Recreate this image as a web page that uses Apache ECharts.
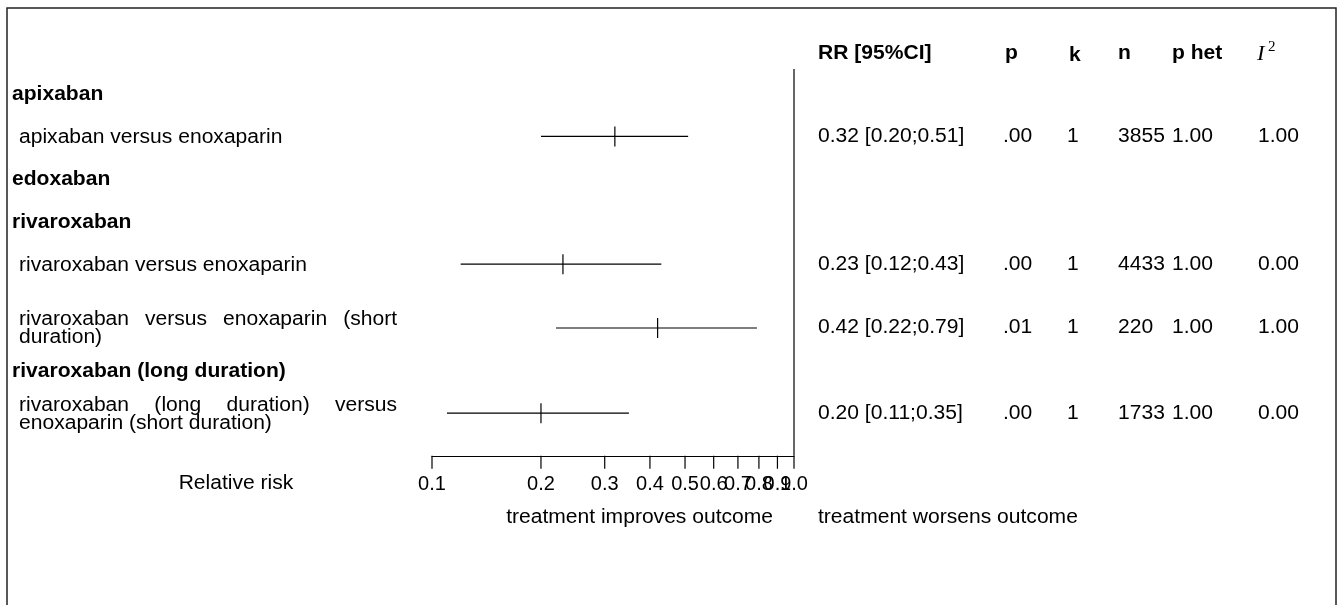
<!DOCTYPE html>
<html>
<head>
<meta charset="utf-8">
<script src="https://cdn.jsdelivr.net/npm/echarts@6/dist/echarts.min.js"></script>
<style>
  html, body { margin: 0; padding: 0; background: #fff; }
  #chart { width: 1343px; height: 605px; }
</style>
</head>
<body>
<div id="chart"></div>
<script>
// ---- data ----
const rowLabels = [
  'apixaban',
  'apixaban versus enoxaparin',
  'edoxaban',
  'rivaroxaban',
  'rivaroxaban versus enoxaparin',
  'rivaroxaban versus enoxaparin (short duration)',
  'rivaroxaban (long duration)',
  'rivaroxaban (long duration) versus enoxaparin (short duration)'
];
const isGroup = [true, false, true, true, false, false, true, false];
const rrEst = [null, 0.32, null, null, 0.23, 0.42, null, 0.20];
const rrLow = [null, 0.20, null, null, 0.12, 0.22, null, 0.11];
const rrHigh = [null, 0.51, null, null, 0.43, 0.79, null, 0.35];
const pVal = ['', '.00', '', '', '.00', '.01', '', '.00'];
const kVal = ['', '1', '', '', '1', '1', '', '1'];
const nVal = ['', '3855', '', '', '4433', '220', '', '1733'];
const pHet = ['', '1.00', '', '', '1.00', '1.00', '', '1.00'];
const i2Val = ['', '1.00', '', '', '0.00', '1.00', '', '0.00'];
const headers = ['RR [95%CI]', 'p', 'k', 'n', 'p het'];
const tickValues = [0.1, 0.2, 0.3, 0.4, 0.5, 0.6, 0.7, 0.8, 0.9, 1.0];
const tickLabels = ['0.1', '0.2', '0.3', '0.4', '0.5', '0.6', '0.7', '0.8', '0.9', '1.0'];
const nullEffect = 1;

// ---- layout ----
const rowSlot = [1, 2, 3, 4, 5, 6.5, 7.5, 8.5];   // row position on the y scale
const colX = [818, 1003, 1067, 1118, 1172, 1258];   // right hand columns
const headX = [818, 1005, 1069, 1118, 1172, 1257];
const FONT = '"Liberation Sans", Arial, Helvetica, sans-serif';
const FS = 19.5;
const STRETCH = 1.08; // the reference text is a bit wide
const LINE_H = 18;
const LABEL_W = 378;

const ctx = document.createElement('canvas').getContext('2d');
function measure(str, bold) {
  ctx.font = (bold ? 'bold ' : '') + FS + 'px ' + FONT;
  return ctx.measureText(str).width * STRETCH;
}
function wrapWords(str, maxW) {
  const words = str.split(' ');
  const lines = [];
  let cur = [];
  words.forEach(w => {
    if (cur.length && measure(cur.concat(w).join(' ')) > maxW) {
      lines.push(cur);
      cur = [w];
    } else {
      cur.push(w);
    }
  });
  lines.push(cur);
  return lines;
}
function txt(str, x, y, opt) {
  return {
    type: 'text',
    x: x,
    y: y,
    scaleX: STRETCH,
    silent: true,
    style: Object.assign({
      text: str, x: 0, y: 0, fill: '#000',
      fontFamily: FONT, fontSize: FS,
      align: 'left', verticalAlign: 'middle'
    }, opt || {})
  };
}
function fmt(v) { return v.toFixed(2); }

const chart = echarts.init(document.getElementById('chart'));

// left labels + table columns
function renderRow(params, api) {
  const i = params.dataIndex;
  const y = api.coord([nullEffect, rowSlot[i]])[1] + 1;
  const children = [];
  if (isGroup[i]) {
    children.push(txt(rowLabels[i], 12, y, { fontWeight: 'bold' }));
  } else {
    const lines = wrapWords(rowLabels[i], LABEL_W);
    lines.forEach((words, j) => {
      const ly = y + (j - (lines.length - 1) / 2) * LINE_H;
      if (j < lines.length - 1 && words.length > 1) {
        const ws = words.map(w => measure(w));
        const gap = (LABEL_W - ws.reduce((a, b) => a + b, 0)) / (words.length - 1);
        let x = 19;
        words.forEach((w, k) => {
          children.push(txt(w, x, ly));
          x += ws[k] + gap;
        });
      } else {
        children.push(txt(words.join(' '), 19, ly));
      }
    });
  }
  if (rrEst[i] != null) {
    const cols = [
      fmt(rrEst[i]) + ' [' + fmt(rrLow[i]) + ';' + fmt(rrHigh[i]) + ']',
      pVal[i], kVal[i], nVal[i], pHet[i], i2Val[i]
    ];
    cols.forEach((c, k) => children.push(txt(c, colX[k], y - 1)));
  }
  return { type: 'group', children: children };
}

function renderHeader(params, api) {
  const y = api.coord([nullEffect, 0])[1] + 2;
  const children = headers.map((h, k) =>
    txt(h, headX[k], y + (h === 'k' ? 2 : 0), { fontWeight: 'bold' }));
  children.push(txt('I', headX[5], y + 1, { fontFamily: '"Liberation Serif", "DejaVu Serif", serif', fontStyle: 'italic', fontSize: 21 }));
  children.push(txt('2', headX[5] + 11, y - 6, { fontFamily: '"Liberation Serif", "DejaVu Serif", serif', fontSize: 14 }));
  return { type: 'group', children: children };
}

function renderCI(params, api) {
  const lo = api.coord([api.value(0), api.value(3)]);
  const hi = api.coord([api.value(2), api.value(3)]);
  const mid = api.coord([api.value(1), api.value(3)]);
  const st = { stroke: '#000', lineWidth: 1.2 };
  return {
    type: 'group',
    children: [
      { type: 'line', shape: { x1: lo[0], y1: lo[1], x2: hi[0], y2: hi[1] }, style: st },
      { type: 'line', shape: { x1: mid[0], y1: mid[1] - 10, x2: mid[0], y2: mid[1] + 10 }, style: st }
    ]
  };
}

function renderTick(params, api) {
  const p = api.coord([api.value(0), 9.5]);
  return {
    type: 'group',
    children: [
      { type: 'line', shape: { x1: p[0], y1: p[1], x2: p[0], y2: p[1] + 13 }, style: { stroke: '#000', lineWidth: 1.2 } },
      Object.assign(txt(tickLabels[params.dataIndex], p[0], p[1] + 29, { align: 'center', fontSize: 20 }), { scaleX: 1 })
    ]
  };
}

function renderNull(params, api) {
  const a = api.coord([nullEffect, 0.42]);
  const b = api.coord([nullEffect, 9.5]);
  return { type: 'line', shape: { x1: a[0], y1: a[1], x2: b[0], y2: b[1] }, style: { stroke: '#000', lineWidth: 1.2 } };
}

const ciData = [];
rrEst.forEach((v, i) => {
  if (v != null) ciData.push([rrLow[i], v, rrHigh[i], rowSlot[i]]);
});

function plainText(str, x, y, align) {
  return {
    type: 'text', x: x, y: y, scaleX: STRETCH, silent: true,
    style: { text: str, x: 0, y: 0, fill: '#000', fontFamily: FONT, fontSize: FS, align: align, verticalAlign: 'middle' }
  };
}

const option = {
  animation: false,
  backgroundColor: '#fff',
  grid: { left: 432, right: 549, top: 68.25, bottom: 149.25 },
  xAxis: {
    type: 'log',
    logBase: 10,
    min: 0.1,
    max: 1,
    axisLine: { show: true, lineStyle: { color: '#000', width: 1.2 } },
    axisTick: { show: false },
    axisLabel: { show: false },
    splitLine: { show: false }
  },
  yAxis: {
    type: 'value',
    inverse: true,
    min: 0.4,
    max: 9.5,
    show: false,
    splitLine: { show: false }
  },
  graphic: [
    {
      type: 'rect',
      shape: { x: 7, y: 8, width: 1329, height: 640 },
      style: { fill: 'none', stroke: '#222', lineWidth: 1.5 },
      silent: true
    },
    plainText('Relative risk', 236, 484, 'center'),
    plainText('treatment improves outcome', 773, 518, 'right'),
    plainText('treatment worsens outcome', 818, 518, 'left')
  ],
  series: [
    { name: 'null', type: 'custom', renderItem: renderNull, data: [[nullEffect]], silent: true },
    { name: 'ci', type: 'custom', renderItem: renderCI, data: ciData, silent: true },
    { name: 'ticks', type: 'custom', renderItem: renderTick, data: tickValues.map(v => [v]), silent: true },
    { name: 'header', type: 'custom', renderItem: renderHeader, data: [[0]], silent: true },
    { name: 'rows', type: 'custom', renderItem: renderRow, data: rowLabels.map((_, i) => [i]), silent: true }
  ]
};
chart.setOption(option);
</script>
</body>
</html>
